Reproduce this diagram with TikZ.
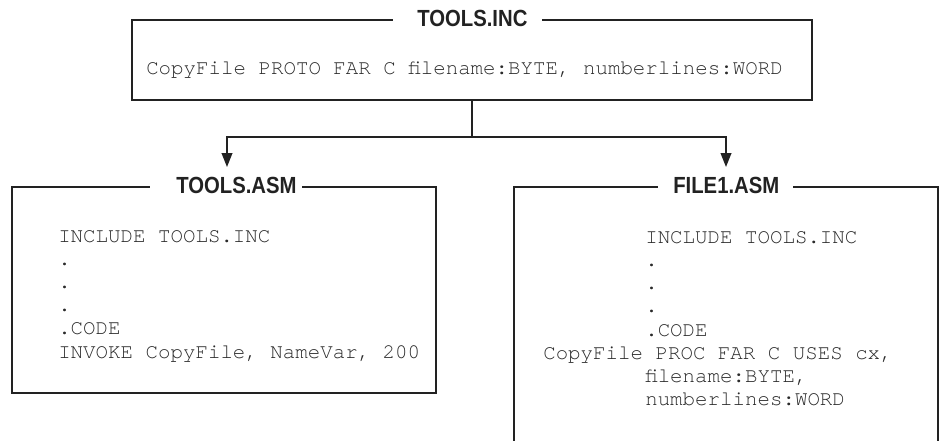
\documentclass[tikz,border=0pt]{standalone}
\usepackage{fontspec}
\setmonofont{TeX Gyre Cursor}
\newfontfamily\titlefont[FakeStretch=0.87]{Liberation Sans}
\usetikzlibrary{arrows.meta}
\definecolor{ink}{HTML}{222222}
\definecolor{codeink}{HTML}{2a2a2a}
\tikzset{
  box/.style={draw=ink, line width=1.4pt, rectangle, inner sep=0pt, outer sep=0pt},
  ttl/.style={fill=white, inner xsep=0pt, inner ysep=2pt, anchor=west, text=ink,
    font=\titlefont\bfseries\fontsize{17.5pt}{20pt}\selectfont},
  code/.style={inner sep=0pt, anchor=base west, text=codeink,
    font=\ttfamily\fontsize{15.6pt}{17.4pt}\selectfont},
  conn/.style={draw=ink, line width=1.4pt},
  arr/.style={conn, -{Triangle[length=10.5pt,width=8pt]}},
}
\begin{document}
\begin{tikzpicture}[x=0.75pt,y=-0.75pt]
\useasboundingbox (0,0) rectangle (940,440);
\clip (0,0) rectangle (940,440);
\fill[white] (0,0) rectangle (940,440);

% boxes
\node[box, minimum width=510pt, minimum height=60pt] (inc) at (472,60) {};
\node[box, minimum width=318pt, minimum height=154.5pt] (asm) at (224,290) {};
\node[box, minimum width=318pt, minimum height=214.5pt] (file1) at (726,330) {};

% titles
\node[ttl] (incT) at (393,18.5) {\hspace*{18pt}TOOLS.INC\hspace*{11.25pt}};
\node[ttl] (asmT) at (150,185) {\hspace*{19.5pt}TOOLS.ASM\hspace*{3.75pt}};
\node[ttl] (fileT) at (658,185.5) {\hspace*{11.25pt}FILE1.ASM\hspace*{10.5pt}};

% connectors
\coordinate (j) at (472,137);
\coordinate (lt) at (227,167);
\coordinate (rt) at (726,167);
\draw[conn] (inc.south) -- (j);
\draw[arr] (j) -| (lt);
\draw[arr] (j) -| (rt);

% code text
\node[code] (incL) at (146,74) {CopyFile PROTO FAR C filename:BYTE, numberlines:WORD};

\foreach \t [count=\i] in {INCLUDE TOOLS.INC,.,.,.,.CODE,{INVOKE CopyFile, NameVar, 200}}
  \node[code] (asmL\i) at (58,{242+(\i-1)*23.2}) {\t};

\foreach \t [count=\i] in {INCLUDE TOOLS.INC,.,.,.,.CODE}
  \node[code] (fileL\i) at (645,{243+(\i-1)*23.25}) {\t};
\node[code] (fileL6) at (543,359.3) {CopyFile PROC FAR C USES cx,};
\node[code] (fileL7) at (645,382.5) {filename:BYTE,};
\node[code] (fileL8) at (645,405.8) {numberlines:WORD};
\end{tikzpicture}
\end{document}
